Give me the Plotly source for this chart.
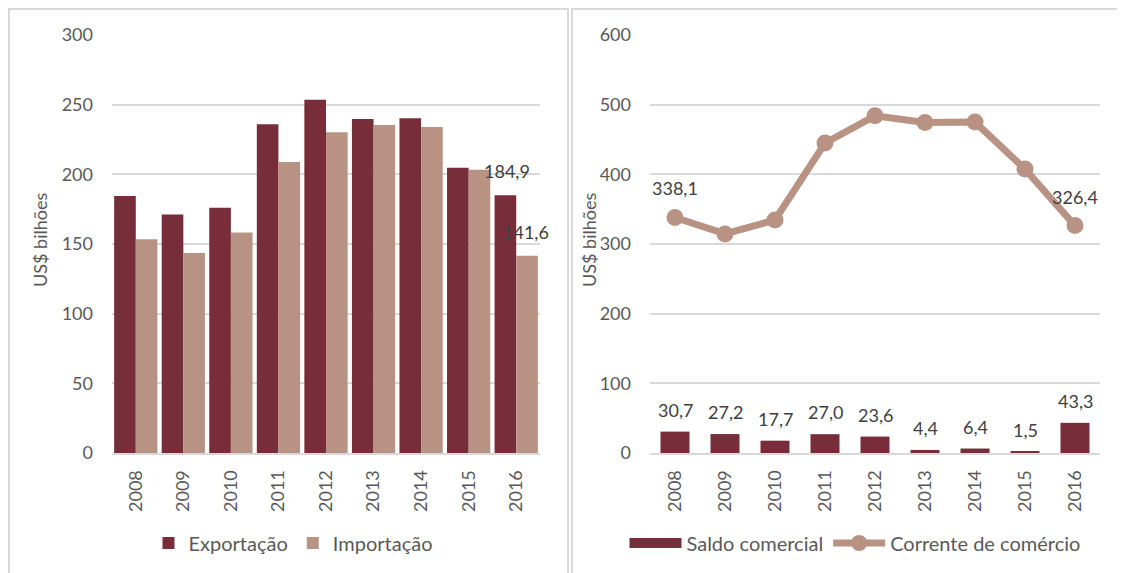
import plotly.graph_objects as go

anos = ["2008", "2009", "2010", "2011", "2012", "2013", "2014", "2015", "2016"]
exportacao = [184.4, 171.1, 176.1, 235.9, 253.6, 239.7, 240.2, 204.8, 184.9]
importacao = [153.4, 143.6, 158.2, 208.8, 230.2, 235.4, 234.0, 203.3, 141.6]
saldo = [30.7, 27.2, 17.7, 27.0, 23.6, 4.4, 6.4, 1.5, 43.3]
corrente = [338.1, 314.5, 334.5, 444.9, 484.0, 474.5, 475.0, 407.5, 326.4]

C_EXP = "#782d3a"
C_IMP = "#b89384"
GRAY = "#595959"
LBL = "#404040"
GRID = "#d9d9d9"
FONT = "Lato"
FS = 18

# the page body adds an 8px margin; work in reference-pixel coordinates
OFF = 8
W, H = 1125 - OFF, 573 - OFF
TOP_REF, BOT_REF = 35, 453
T = TOP_REF - OFF
B = H - (BOT_REF - OFF)
PH = H - T - B

pos = list(range(len(anos)))


def py(p):
    return (BOT_REF - p) / PH


def px(p):
    return (p - OFF) / W


def fmt(v):
    return f"{v:.1f}".replace(".", ",")


fig = go.Figure()
fig.add_trace(go.Bar(x=pos, y=exportacao, name="Exportação", marker=dict(color=C_EXP, line=dict(width=0)),
                     xaxis="x", yaxis="y", legend="legend", offsetgroup="e"))
fig.add_trace(go.Bar(x=pos, y=importacao, name="Importação", marker=dict(color=C_IMP, line=dict(width=0)),
                     xaxis="x", yaxis="y", legend="legend", offsetgroup="i"))
fig.add_trace(go.Bar(x=pos, y=saldo, name="Saldo comercial", marker=dict(color=C_EXP, line=dict(width=0)),
                     xaxis="x2", yaxis="y2", showlegend=False, width=0.58))
fig.add_trace(go.Scatter(x=[None], y=[None], name="Saldo comercial", mode="lines",
                         line=dict(color=C_EXP, width=11), xaxis="x2", yaxis="y2", legend="legend2"))
fig.add_trace(go.Scatter(x=pos, y=corrente, name="Corrente de comércio", mode="lines+markers",
                         line=dict(color=C_IMP, width=7), marker=dict(color=C_IMP, size=17),
                         xaxis="x2", yaxis="y2", legend="legend2"))

lf = dict(size=FS, color=LBL, family=FONT)
ann = []
k = len(anos) - 1
ann.append(dict(x=pos[k], y=exportacao[k], xref="x", yref="y", text=fmt(exportacao[k]),
                showarrow=False, xshift=-9, yshift=24, font=lf))
ann.append(dict(x=pos[k], y=importacao[k], xref="x", yref="y", text=fmt(importacao[k]),
                showarrow=False, xshift=10, yshift=24, font=lf))
for p, s in zip(pos, saldo):
    ann.append(dict(x=p, y=s, xref="x2", yref="y2", text=fmt(s), showarrow=False, yshift=22, font=lf))
for i in (0, k):
    ann.append(dict(x=pos[i], y=corrente[i], xref="x2", yref="y2", text=fmt(corrente[i]),
                    showarrow=False, yshift=29, font=lf))
ann.append(dict(x=px(40), y=py(240), xref="paper", yref="paper", xanchor="center", yanchor="middle",
                text="US$ bilhões", textangle=-90, showarrow=False,
                font=dict(size=FS, color=GRAY, family=FONT)))
ann.append(dict(x=px(589), y=py(240), xref="paper", yref="paper", xanchor="center", yanchor="middle",
                text="US$ bilhões", textangle=-90, showarrow=False,
                font=dict(size=FS, color=GRAY, family=FONT)))
ann.append(dict(x=px(0), y=py(9), xref="paper", yref="paper", xanchor="left", yanchor="bottom",
                text="US$ bilhões – acumulados em 12 meses – 2008 a 2016", showarrow=False,
                font=dict(size=20, color=GRAY, family=FONT)))

shapes = [
    dict(type="rect", xref="paper", yref="paper", x0=px(9), x1=px(568), y0=py(9), y1=py(580),
         line=dict(color=GRID, width=2)),
    dict(type="rect", xref="paper", yref="paper", x0=px(572), x1=px(1122), y0=py(9), y1=py(580),
         line=dict(color=GRID, width=2)),
]

axis_common = dict(showgrid=False, showline=True, linecolor=GRID, linewidth=2, ticks="", zeroline=False,
                   tickangle=-90, tickfont=dict(size=FS, color=GRAY, family=FONT), ticklabelstandoff=8,
                   tickmode="array", tickvals=pos, ticktext=anos, range=[-0.5, len(anos) - 0.5])
yaxis_common = dict(showgrid=True, gridcolor=GRID, gridwidth=2, zeroline=False, showline=False, ticks="",
                    tickfont=dict(size=FS, color=GRAY, family=FONT), ticklabelstandoff=18)

LEGF = dict(size=20, color=GRAY, family=FONT)

fig.update_layout(
    width=W, height=H,
    margin=dict(l=0, r=0, t=T, b=B, autoexpand=False),
    paper_bgcolor="white", plot_bgcolor="white",
    barmode="group", bargap=0.09, bargroupgap=0,
    font=dict(family=FONT, color=GRAY, size=FS),
    xaxis=dict(domain=[px(112), px(540)], anchor="y", **axis_common),
    yaxis=dict(domain=[0, 1], anchor="x", range=[0, 300], dtick=50, **yaxis_common),
    xaxis2=dict(domain=[px(650), px(1100)], anchor="y2", **axis_common),
    yaxis2=dict(domain=[0, 1], anchor="x2", range=[0, 600], dtick=100, **yaxis_common),
    legend=dict(orientation="h", x=px(293), y=py(543), xanchor="center", yanchor="middle",
                font=LEGF, bgcolor="rgba(0,0,0,0)", itemwidth=30),
    legend2=dict(orientation="h", x=px(855), y=py(543), xanchor="center", yanchor="middle",
                 font=LEGF, bgcolor="rgba(0,0,0,0)", itemwidth=52),
    annotations=ann,
    shapes=shapes,
    showlegend=True,
)

fig.write_html("out.html")
